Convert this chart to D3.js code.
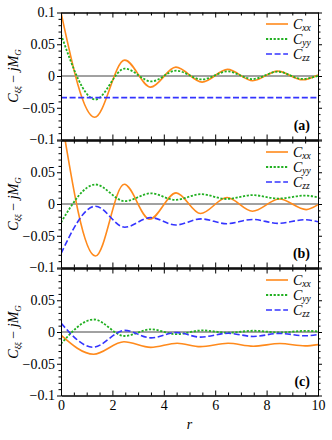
<!DOCTYPE html>
<html><head><meta charset="utf-8">
<script src="https://cdn.jsdelivr.net/npm/d3@7"></script>
<style>
body{margin:0;background:#fff}
svg{display:block}
</style>
</head><body>
<svg id="chart" width="332" height="440" font-family="Liberation Serif, DejaVu Serif, serif"></svg>
<script>
// ---- data ----
const rTicks = [0, 2, 4, 6, 8, 10];
const rMinor = [0.5, 1, 1.5, 2.5, 3, 3.5, 4.5, 5, 5.5, 6.5, 7, 7.5, 8.5, 9, 9.5];
const yTicks = [0.1, 0.05, 0, -0.05, -0.1];
const yTickLabels = ["0.1", "0.05", "0", "\u22120.05", "\u22120.1"];
const yMinor = [0.09,0.08,0.07,0.06,0.04,0.03,0.02,0.01,-0.01,-0.02,-0.03,-0.04,-0.06,-0.07,-0.08,-0.09];
const panelLabels = ["(a)", "(b)", "(c)"];
const seriesSubs = ["xx", "yy", "zz"];

// [r, value] pairs at extrema / ends
const aCxx = [[0,0.1],[1.31,-0.065],[2.48,0.025],[3.49,-0.0175],[4.47,0.014],[5.49,-0.0096],[6.48,0.0104],[7.46,-0.0074],[8.43,0.0077],[9.4,-0.006],[10,0.0015]];
const aCyy = [[0,0.0656],[1.34,-0.037],[2.48,0.0116],[3.52,-0.0085],[4.48,0.0084],[5.49,-0.0054],[6.48,0.0072],[7.46,-0.0048],[8.43,0.0068],[9.4,-0.0046],[10,0.0003]];
const aCzz = [[0,-0.034],[10,-0.034]];

const bCxx = [[0,0.14],[1.34,-0.082],[2.46,0.031],[3.45,-0.024],[4.48,0.0175],[5.43,-0.015],[6.46,0.0102],[7.45,-0.0113],[8.5,0.0079],[9.54,-0.0088],[10,-0.001]];
const bCyy = [[0,-0.029],[1.34,0.0307],[2.48,0.0045],[3.5,0.0168],[4.45,0.0065],[5.45,0.0155],[6.43,0.0079],[7.46,0.014],[8.44,0.0086],[9.52,0.0133],[10,0.0102]];
const bCzz = [[0,-0.078],[1.34,-0.0035],[2.48,-0.0365],[3.49,-0.0215],[4.47,-0.033],[5.45,-0.0235],[6.45,-0.031],[7.46,-0.0243],[8.45,-0.0305],[9.5,-0.0248],[10,-0.028]];

const cCxx = [[0,-0.005],[1.27,-0.035],[2.45,-0.0153],[3.49,-0.0242],[4.52,-0.0176],[5.42,-0.0231],[6.5,-0.0178],[7.48,-0.0224],[8.52,-0.0182],[9.5,-0.0218],[10,-0.0198]];
const cCyy = [[0,-0.0185],[1.28,0.0197],[2.47,-0.0063],[3.5,0.0042],[4.49,-0.0035],[5.5,0.0025],[6.5,-0.0012],[7.5,0.002],[8.5,-0.0008],[9.5,0.0018],[10,0.001]];
const cCzz = [[0,0.014],[1.25,-0.024],[2.48,0.0025],[3.5,-0.0092],[4.49,-0.0008],[5.42,-0.008],[6.5,-0.002],[7.48,-0.007],[8.5,-0.0022],[9.5,-0.006],[10,-0.004]];

const panelsData = [[aCxx, aCyy, aCzz], [bCxx, bCyy, bCzz], [cCxx, cCyy, cCzz]];

// ---- styles ----
const FONT = '"Liberation Serif", "DejaVu Serif", serif';
const colors = ["#ff8a1c", "#22b022", "#3434ff"];
const dashes = [null, "2.2,1.6", "6,2.6"];
const widths = [1.6, 1.8, 1.6];

const svg = d3.select("#chart");
const left = 61, right = 318;
const tops = [12.5, 140.5, 268.5], ph = 127;
const x = d3.scaleLinear().domain([0, 10]).range([left, right]);

panelsData.forEach((series, i) => {
  const top = tops[i], bot = top + ph;
  const y = d3.scaleLinear().domain([-0.1, 0.1]).range([bot, top]);
  const g = svg.append("g");

  g.append("clipPath").attr("id", "clip" + i)
    .append("rect").attr("x", left).attr("y", top).attr("width", right - left).attr("height", ph);

  // zero line
  g.append("line").attr("x1", left).attr("x2", right)
    .attr("y1", y(0)).attr("y2", y(0))
    .attr("stroke", "#444").attr("stroke-width", 1);

  const line = d3.line().x(d => x(d[0])).y(d => y(d[1])).curve(d3.curveMonotoneX);
  const cg = g.append("g").attr("clip-path", `url(#clip${i})`);
  series.forEach((s, k) => {
    cg.append("path").datum(s).attr("d", line)
      .attr("fill", "none").attr("stroke", colors[k])
      .attr("stroke-width", widths[k])
      .attr("stroke-dasharray", dashes[k]);
  });

  // axes (frame)
  const styleAxis = sel => {
    sel.attr("font-family", FONT);
    sel.selectAll("path.domain").attr("stroke", "#000").attr("stroke-width", 1);
    sel.selectAll(".tick line").attr("stroke", "#000").attr("stroke-width", 1);
    sel.selectAll("text").attr("font-size", 14).attr("fill", "#000");
  };
  const bottomAx = d3.axisBottom(x).tickValues(rTicks).tickSize(-5).tickSizeOuter(0).tickPadding(5)
    .tickFormat(i === 2 ? d3.format("d") : () => "");
  g.append("g").attr("transform", `translate(0,${bot})`).call(bottomAx).call(styleAxis);
  g.append("g").attr("transform", `translate(0,${bot})`)
    .call(d3.axisBottom(x).tickValues(rMinor).tickSize(-3).tickSizeOuter(0).tickFormat(() => ""))
    .call(styleAxis);
  g.append("g").attr("transform", `translate(0,${top})`)
    .call(d3.axisTop(x).tickValues(rTicks).tickSize(-5).tickSizeOuter(0).tickFormat(() => ""))
    .call(styleAxis);
  g.append("g").attr("transform", `translate(0,${top})`)
    .call(d3.axisTop(x).tickValues(rMinor).tickSize(-3).tickSizeOuter(0).tickFormat(() => ""))
    .call(styleAxis);

  // panels below the first share their top label with the panel above
  g.append("g").attr("transform", `translate(${left},0)`)
    .call(d3.axisLeft(y).tickValues(yTicks).tickSize(4).tickSizeOuter(0).tickPadding(2)
      .tickFormat((d, j) => (i > 0 && j === 0) ? "" : yTickLabels[j]))
    .call(styleAxis);
  g.append("g").attr("transform", `translate(${left},0)`)
    .call(d3.axisLeft(y).tickValues(yMinor).tickSize(2.5).tickSizeOuter(0).tickFormat(() => ""))
    .call(styleAxis);
  g.append("g").attr("transform", `translate(${right},0)`)
    .call(d3.axisRight(y).tickValues(yTicks).tickSize(4).tickSizeOuter(0).tickFormat(() => ""))
    .call(styleAxis);
  g.append("g").attr("transform", `translate(${right},0)`)
    .call(d3.axisRight(y).tickValues(yMinor).tickSize(2.5).tickSizeOuter(0).tickFormat(() => ""))
    .call(styleAxis);

  // y label
  const yl = g.append("text")
    .attr("transform", `translate(18,${(top + bot) / 2}) rotate(-90)`)
    .attr("text-anchor", "middle").attr("font-size", 14);
  yl.append("tspan").attr("font-style", "italic").text("C");
  yl.append("tspan").attr("font-style", "italic").attr("font-size", 9).attr("dy", 3).text("\u03be\u03be");
  yl.append("tspan").attr("dy", -3).text(" \u2212 ");
  yl.append("tspan").attr("font-style", "italic").text("jM");
  yl.append("tspan").attr("font-style", "italic").attr("font-size", 9).attr("dy", 3).text("G");

  // legend
  seriesSubs.forEach((sub, k) => {
    const ly = top + 11.5 + 15 * k;
    g.append("line").attr("x1", 266).attr("x2", 288).attr("y1", ly).attr("y2", ly)
      .attr("stroke", colors[k]).attr("stroke-width", widths[k])
      .attr("stroke-dasharray", dashes[k]);
    const t = g.append("text").attr("x", 293).attr("y", ly + 4.5).attr("font-size", 14);
    t.append("tspan").attr("font-style", "italic").text("C");
    t.append("tspan").attr("font-style", "italic").attr("font-size", 9.5).attr("dy", 2.5).text(sub);
  });

  // panel label
  g.append("text").attr("x", 310).attr("y", bot - 10).attr("text-anchor", "end")
    .attr("font-size", 14).attr("font-weight", "bold").text(panelLabels[i]);
});

// x axis title
svg.append("text").attr("x", (left + right) / 2).attr("y", 429).attr("text-anchor", "middle")
  .attr("font-size", 14).attr("font-style", "italic").text("r");

svg.selectAll("text").style("font-family", FONT);
</script>
</body></html>
